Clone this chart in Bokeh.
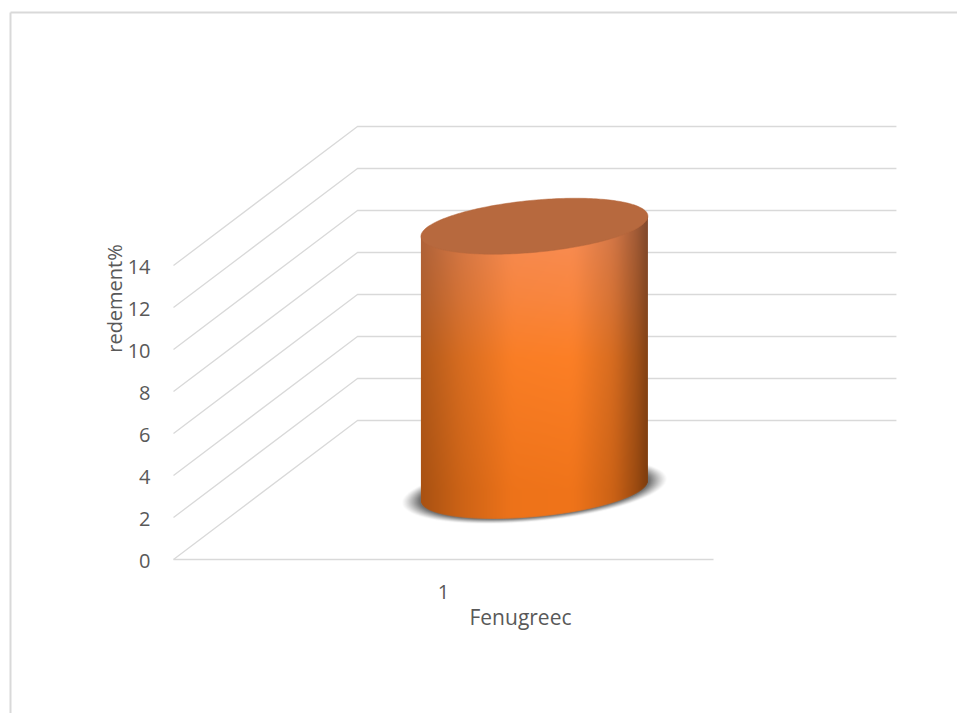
import numpy as np
from bokeh.core.properties import value
from bokeh.embed import file_html
from bokeh.models import Range1d
from bokeh.plotting import figure
from bokeh.resources import INLINE

# Chart content
categories = ["1"]
series_values = [12.6]
tick_values = [0, 2, 4, 6, 8, 10, 12, 14]
x_title = "Fenugreec"
y_title = "redement%"

# Scale: one category spans 540 px, one unit of yield spans 21 px
W, H = 957, 713
PX_X, PX_Y = 540.0, 21.0
LEFT_PX, ZERO_PX = 173.0, 559.0
DEPTH_X, DEPTH_Y = 184.0 / PX_X, 139.0 / PX_Y
GRID = "#D9D9D9"
TEXT = "#595959"
FONT = "Open Sans"
FONT_SIZE = "20px"

p = figure(
    width=W, height=H, output_backend="svg", toolbar_location=None, min_border=0,
    x_range=Range1d(-LEFT_PX / PX_X, (W - LEFT_PX) / PX_X),
    y_range=Range1d((ZERO_PX - H) / PX_Y, ZERO_PX / PX_Y),
)
p.axis.visible = False
p.grid.visible = False
p.outline_line_color = None
p.background_fill_color = "white"

x_min, x_max = p.x_range.start, p.x_range.end
y_min, y_max = p.y_range.start, p.y_range.end

# Chart-area frame: left and top edges
p.line([(10 - LEFT_PX) / PX_X] * 2, [y_min, (ZERO_PX - 12) / PX_Y], line_color=GRID, line_width=2)
p.line([(10 - LEFT_PX) / PX_X, x_max], [(ZERO_PX - 12) / PX_Y] * 2, line_color=GRID, line_width=2)

# Gridlines: side wall diagonal, then across the back wall
for t in tick_values:
    p.line([0, DEPTH_X, DEPTH_X + 0.998], [t, t + DEPTH_Y, t + DEPTH_Y], line_color=GRID, line_width=1.3)
p.line([0, 1], [0, 0], line_color=GRID, line_width=1.3)


def rim(cx, cy, hx, hy, rho, n=240):
    """Outline of a tilted ellipse, in data units."""
    t = np.linspace(0, 2 * np.pi, n)
    phi = np.arccos(rho)
    return cx + hx * np.cos(t), cy + hy * np.cos(t - phi)


def lower_edge(u, hy, rho):
    """Height of an ellipse's lower rim above its centre, for u in [-1, 1]."""
    return hy * (rho * u - np.sqrt(1 - rho**2) * np.sqrt(np.clip(1 - u**2, 0, 1)))


# Cylinder geometry, placed at mid depth of its category
bar_value = series_values[0]
cx = 0.498 + DEPTH_X / 2
base = DEPTH_Y * 0.494
HX_PX, HY_PX = 113.5, 28.0
hx = HX_PX / PX_X
hy = HY_PX / PX_Y
rho = 0.36

# Soft shadow on the floor
sx, sy = np.meshgrid(np.arange(-150, 151), np.arange(-50, 51))
su = sx / 129.0
sv = (sy / 32.0 - rho * su) / np.sqrt(1 - rho**2)
sr = np.sqrt(su**2 + sv**2)
shadow = np.zeros(sx.shape + (4,), dtype=np.uint8)
shadow[..., :3] = 85
shadow[..., 3] = (np.clip((1.03 - sr) / 0.14, 0, 1) ** 1.2 * 210).astype(np.uint8)
p.image_rgba(image=[shadow.view(dtype=np.uint32).reshape(sx.shape)],
             x=cx - 150.5 / PX_X, y=base - 50.5 / PX_Y,
             dw=301 / PX_X, dh=101 / PX_Y)

# Cylinder wall, shaded across and along its height
wall_span = bar_value * PX_Y
wall_h_px = int(round(wall_span + 2 * HY_PX + 2))
wall_w_px = 227
col = (np.arange(wall_w_px) + 0.5) / wall_w_px * 2 - 1
row = np.arange(wall_h_px) + 0.5
gx, gy = np.meshgrid(col, row)
base_row = HY_PX + 1                       # wall row of the lower ellipse's centre
frac = np.clip((gy - base_row) / wall_span, 0, 1)

shade_knots = np.interp(np.linspace(-1, 1, 401),
                        [-1, -0.65, -0.2, 0.35, 0.7, 0.93, 1.0],
                        [0.70, 0.85, 0.99, 1.0, 0.85, 0.62, 0.50])
shade_knots = np.convolve(np.pad(shade_knots, 12, mode="edge"), np.ones(25) / 25, mode="valid")
shade = np.interp(gx, np.linspace(-1, 1, 401), shade_knots)

stops = [0, 0.5, 0.72, 1]
r = np.interp(frac, stops, [240, 252, 250, 248]) * shade
g = np.interp(frac, stops, [116, 127, 134, 141]) * shade
b = np.interp(frac, stops, [26, 38, 62, 86]) * shade

lower_rim = base_row + lower_edge(gx, HY_PX, rho)
upper_rim = base_row + wall_span + HY_PX * rho * gx   # hidden behind the cap
wall = np.zeros(gx.shape + (4,), dtype=np.uint8)
wall[..., 0] = np.clip(r, 0, 255)
wall[..., 1] = np.clip(g, 0, 255)
wall[..., 2] = np.clip(b, 0, 255)
wall[..., 3] = (np.clip(gy - lower_rim + 0.5, 0, 1) * np.clip(upper_rim - gy + 0.5, 0, 1) * 255).astype(np.uint8)
p.image_rgba(image=[wall.view(dtype=np.uint32).reshape(gx.shape)],
             x=cx - hx, y=base - base_row / PX_Y,
             dw=wall_w_px / PX_X, dh=wall_h_px / PX_Y)

# Cylinder cap
cap_x, cap_y = rim(cx, base + bar_value, hx, hy, rho)
p.patch(cap_x, cap_y, fill_color="#B7693E", line_color="#B7693E", line_width=0.5)

# Tick labels and axis titles
p.text(x=[(150 - LEFT_PX) / PX_X] * len(tick_values), y=[t - 1 / PX_Y for t in tick_values],
       text=[str(t) for t in tick_values], text_align="right", text_baseline="middle",
       text_font=value(FONT), text_font_size=FONT_SIZE, text_color=TEXT)
p.text(x=[0.5], y=[-32 / PX_Y], text=categories, text_align="center", text_baseline="middle",
       text_font=value(FONT), text_font_size=FONT_SIZE, text_color=TEXT)
p.text(x=[(520 - LEFT_PX) / PX_X], y=[-57 / PX_Y], text=[x_title], text_align="center",
       text_baseline="middle", text_font=value(FONT), text_font_size="21px", text_color=TEXT)
p.text(x=[(114 - LEFT_PX) / PX_X], y=[(ZERO_PX - 298) / PX_Y], text=[y_title], angle=np.pi / 2,
       text_align="center", text_baseline="middle", text_font=value(FONT),
       text_font_size=FONT_SIZE, text_color=TEXT)

open("out.html", "w").write(file_html(p, INLINE))
